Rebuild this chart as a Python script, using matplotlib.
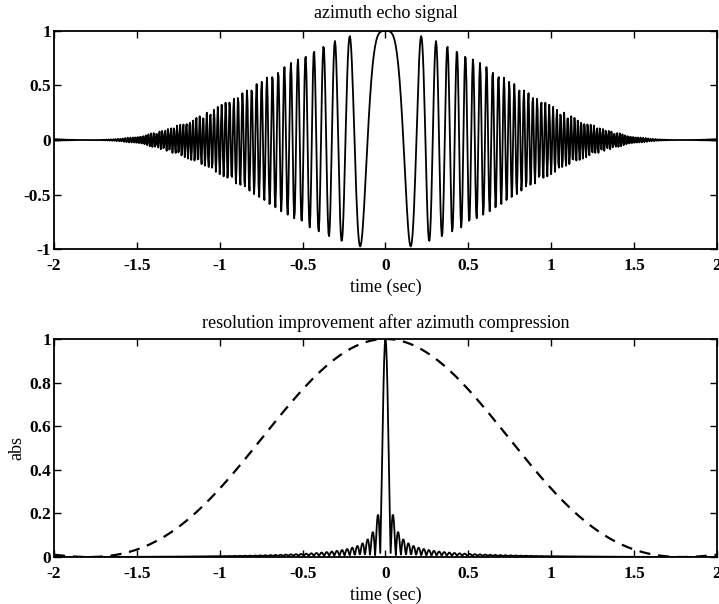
import numpy as np
import matplotlib.pyplot as plt

# values
t_start, t_stop = -2.0, 2.0
sample_rate = 256.0           # samples per second
chirp_rate = 43.0             # Hz per second, from trough/peak positions near t=0
beam_null_time = 1.79         # envelope first reaches zero at about |t| = 1.79 s
reference_length = 0.75       # s, matched filter length giving the narrow main lobe
x_ticks = [-2, -1.5, -1, -0.5, 0, 0.5, 1, 1.5, 2]
x_tick_labels = ['-2', '-1.5', '-1', '-0.5', '0', '0.5', '1', '1.5', '2']
top_y_ticks = [-1, -0.5, 0, 0.5, 1]
top_y_tick_labels = ['-1', '-0.5', '0', '0.5', '1']
bottom_y_ticks = [0, 0.2, 0.4, 0.6, 0.8, 1]
bottom_y_tick_labels = ['0', '0.2', '0.4', '0.6', '0.8', '1']

plt.rcParams['font.family'] = ['Liberation Serif', 'DejaVu Serif']


def echo_signal(t):
    # two-way antenna pattern times a linear FM phase history
    envelope = np.sinc(t / beam_null_time) ** 2
    return envelope, envelope * np.exp(1j * np.pi * chirp_rate * t ** 2)


def compress(signal, t):
    tr = t[np.abs(t) <= reference_length / 2]
    reference = np.exp(1j * np.pi * chirp_rate * tr ** 2)
    out = np.abs(np.convolve(signal, np.conj(reference[::-1]), mode='same'))
    return out / out.max()


def style_axes(ax, yticks, ylabels):
    ax.set_xlim(t_start, t_stop)
    ax.set_xticks(x_ticks)
    ax.set_xticklabels(x_tick_labels, fontsize=12.5, fontweight='bold')
    ax.set_yticks(yticks)
    ax.set_yticklabels(ylabels, fontsize=12.5, fontweight='bold')
    ax.tick_params(direction='in', top=True, right=True, length=5, width=1)
    ax.tick_params(axis='x', pad=6.5)
    ax.tick_params(axis='y', pad=2)
    for s in ax.spines.values():
        s.set_linewidth(1.3)
    ax.set_xlabel('time (sec)', fontsize=13, labelpad=3)


def main():
    t = np.arange(t_start, t_stop + 0.5 / sample_rate, 1 / sample_rate)
    envelope, signal = echo_signal(t)
    compressed = compress(signal, t)

    fig = plt.figure(figsize=(7.19, 6.04), dpi=100)

    ax1 = fig.add_axes([0.0751, 0.5877, 0.922, 0.361])
    ax1.plot(t, signal.real, color='black', linewidth=1.3)
    ax1.set_ylim(-1, 1)
    style_axes(ax1, top_y_ticks, top_y_tick_labels)
    ax1.set_title('azimuth echo signal', fontsize=13, pad=9)

    ax2 = fig.add_axes([0.0751, 0.0778, 0.922, 0.361])
    ax2.plot(t, compressed, color='black', linewidth=1.3)
    ax2.plot(t, envelope, color='black', linewidth=1.6, linestyle=(0, (5, 3.5)))
    ax2.set_ylim(0, 1)
    style_axes(ax2, bottom_y_ticks, bottom_y_tick_labels)
    ax2.set_ylabel('abs', fontsize=13, labelpad=3)
    ax2.set_title('resolution improvement after azimuth compression', fontsize=13, pad=8)

    fig.savefig('out.png', dpi=100)


if __name__ == "__main__":
    main()
